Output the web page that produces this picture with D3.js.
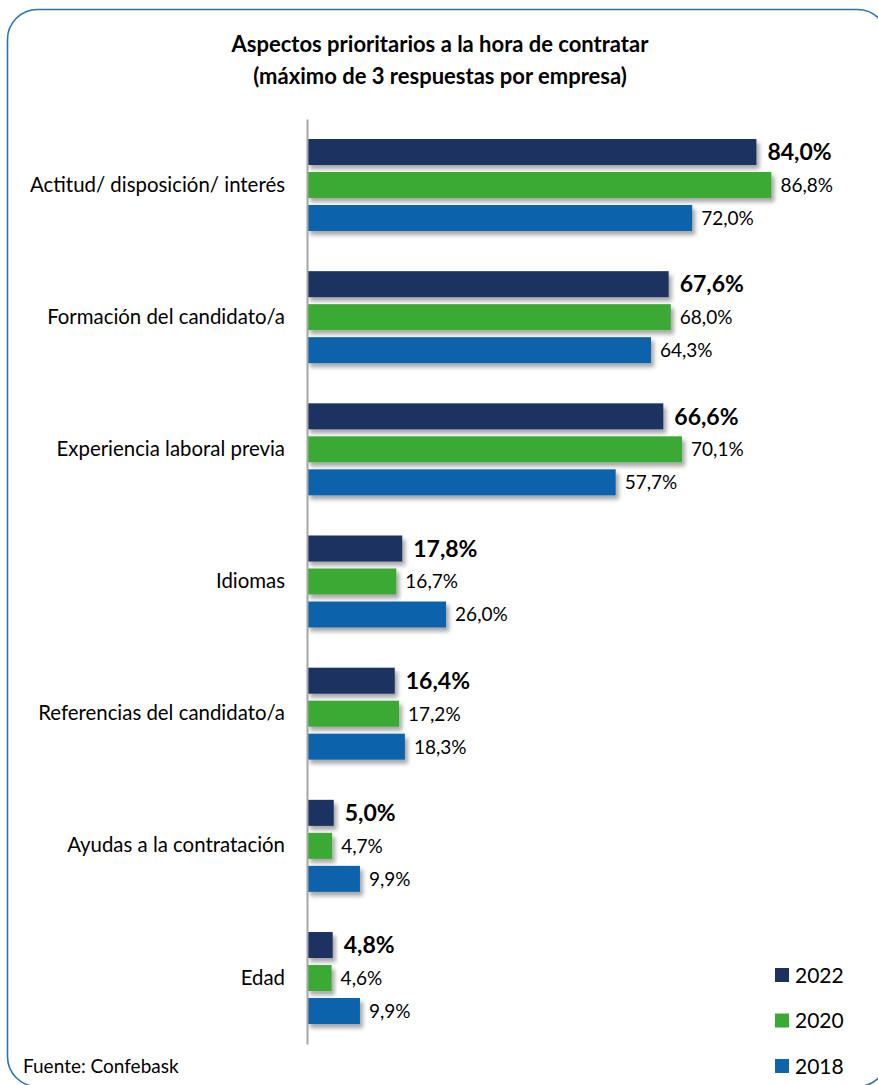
<!DOCTYPE html>
<html>
<head>
<meta charset="utf-8">
<script src="https://cdn.jsdelivr.net/npm/d3@7"></script>
<style>
  html, body { margin: 0; padding: 0; background: #fff; }
  svg { display: block; font-family: Lato, "Open Sans", sans-serif; }
</style>
</head>
<body>
<svg id="chart" width="878" height="1085"></svg>
<script>
const categories = [
  "Actitud/ disposición/ interés",
  "Formación del candidato/a",
  "Experiencia laboral previa",
  "Idiomas",
  "Referencias del candidato/a",
  "Ayudas a la contratación",
  "Edad"
];
const seriesNames = ["2022", "2020", "2018"];
const values2022 = [84.0, 67.6, 66.6, 17.8, 16.4, 5.0, 4.8];
const values2020 = [86.8, 68.0, 70.1, 16.7, 17.2, 4.7, 4.6];
const values2018 = [72.0, 64.3, 57.7, 26.0, 18.3, 9.9, 9.9];
const seriesColors = ["#1b3160", "#3aaa35", "#0e64ab"];
const titleLines = ["Aspectos prioritarios a la hora de contratar", "(máximo de 3 respuestas por empresa)"];
const sourceText = "Fuente: Confebask";

const seriesValues = [values2022, values2020, values2018];
const fmt = v => d3.format(".1f")(v).replace(".", ",") + "%";

const svg = d3.select("#chart");

// shadow filter
const defs = svg.append("defs");
const f = defs.append("filter").attr("id", "shadow").attr("x", "-10%").attr("y", "-30%").attr("width", "130%").attr("height", "190%");
f.append("feDropShadow").attr("dx", 3).attr("dy", 4).attr("stdDeviation", 2.2)
  .attr("flood-color", "#000").attr("flood-opacity", 0.35);

// frame
svg.append("rect").attr("x", 7.5).attr("y", 9.5).attr("width", 880).attr("height", 1077)
  .attr("rx", 30).attr("ry", 30).attr("fill", "none").attr("stroke", "#2a72b8").attr("stroke-width", 1.6);

// title
svg.append("g").selectAll("text").data(titleLines).join("text")
  .attr("x", 440).attr("y", (d, i) => 52 + i * 32)
  .attr("text-anchor", "middle").attr("font-weight", "bold").attr("font-size", 22)
  .attr("fill", "#000").text(d => d);

const x0 = 307;
const x = d3.scaleLinear().domain([0, 100]).range([x0, x0 + 535]);
const y = d3.scaleBand().domain(categories).range([118.9, 1044.1]).paddingInner(0.304).paddingOuter(0.152);
const ySub = d3.scaleBand().domain(seriesNames).range([0, y.bandwidth()]).paddingInner(0.212).paddingOuter(0);

const rows = [];
categories.forEach((c, i) => {
  seriesNames.forEach((s, j) => rows.push({ cat: c, series: s, si: j, value: seriesValues[j][i] }));
});

const g = svg.append("g");
g.selectAll("rect.bar").data(rows).join("rect").attr("class", "bar")
  .attr("x", x(0)).attr("y", d => y(d.cat) + ySub(d.series))
  .attr("width", d => x(d.value) - x(0)).attr("height", ySub.bandwidth())
  .attr("fill", d => seriesColors[d.si]).attr("filter", "url(#shadow)");

g.selectAll("text.val").data(rows).join("text").attr("class", "val")
  .attr("x", d => x(d.value) + (d.si === 0 ? 11 : 9))
  .attr("y", d => y(d.cat) + ySub(d.series) + ySub.bandwidth() / 2)
  .attr("dy", "0.36em")
  .attr("font-size", d => d.si === 0 ? 23 : 19)
  .attr("font-weight", d => d.si === 0 ? "bold" : "normal")
  .attr("fill", "#000")
  .text(d => fmt(d.value));

// axis
const axis = svg.append("g").attr("transform", `translate(${x0},0)`)
  .call(d3.axisLeft(y).tickSize(0).tickSizeOuter(0).tickPadding(22));
axis.select(".domain").attr("stroke", "#a6a6a6").attr("stroke-width", 2);
axis.selectAll(".tick text").attr("font-size", 20.4).attr("fill", "#000")
  .attr("font-family", "Lato, 'Open Sans', sans-serif");

// legend
const leg = svg.append("g").selectAll("g").data(seriesNames).join("g")
  .attr("transform", (d, i) => `translate(775,${975 + i * 45.5})`);
leg.append("rect").attr("x", 0).attr("y", -7).attr("width", 14).attr("height", 14)
  .attr("fill", (d, i) => seriesColors[i]);
leg.append("text").attr("x", 20).attr("y", 0).attr("dy", "0.36em").attr("font-size", 21)
  .attr("fill", "#000").text(d => d);

// source
svg.append("text").attr("x", 23).attr("y", 1073).attr("font-size", 19).attr("fill", "#000").text(sourceText);
</script>
</body>
</html>
